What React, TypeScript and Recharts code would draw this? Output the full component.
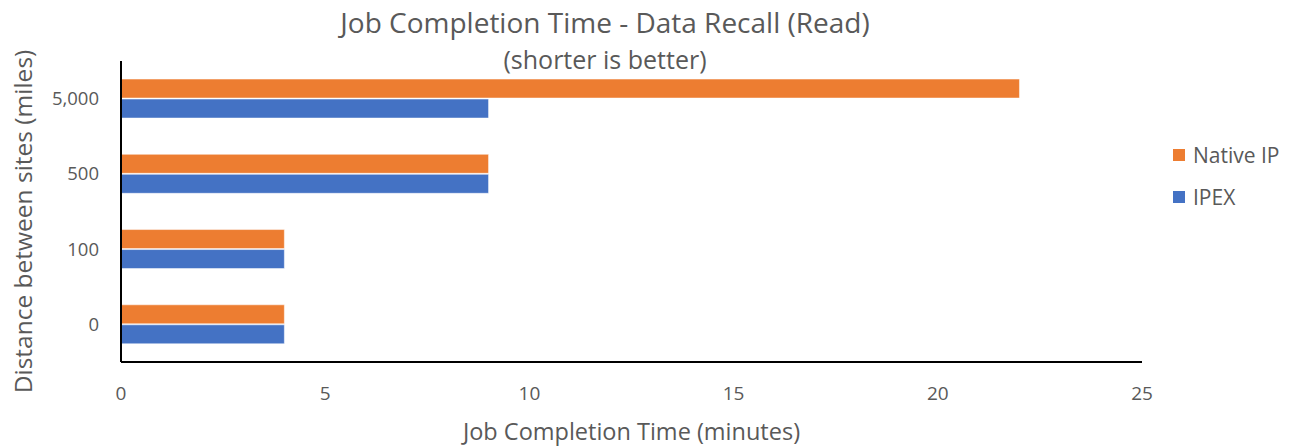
import React from "react";
import { BarChart, Bar, XAxis, YAxis, Label } from "recharts";

const distances = ["5,000", "500", "100", "0"];
const nativeIp = [22, 9, 4, 4];
const ipex = [9, 9, 4, 4];
const xTicks = [0, 5, 10, 15, 20, 25];

const seriesNames = { native: "Native IP", ipex: "IPEX" };
const colors = { native: "#ED7D31", ipex: "#4472C4" };

const data = distances.map((d, i) => ({
  distance: d,
  native: nativeIp[i],
  ipex: ipex[i],
}));

const FONT = "'Open Sans', 'DejaVu Sans', sans-serif";
const TEXT = "#595959";

function LegendBox() {
  const items = [
    { name: seriesNames.native, color: colors.native },
    { name: seriesNames.ipex, color: colors.ipex },
  ];
  return (
    <div
      style={{
        position: "absolute",
        left: 1173,
        top: 134,
        fontFamily: FONT,
        fontSize: 21,
        color: TEXT,
      }}
    >
      {items.map((it) => (
        <div
          key={it.name}
          style={{ display: "flex", alignItems: "center", height: 42 }}
        >
          <span
            style={{
              display: "inline-block",
              width: 12,
              height: 12,
              background: it.color,
              marginRight: 8,
            }}
          />
          {it.name}
        </div>
      ))}
    </div>
  );
}

export default function App() {
  return (
    <div
      style={{
        position: "absolute",
        left: 0,
        top: 0,
        width: 1293,
        height: 447,
        background: "#fff",
        fontFamily: FONT,
      }}
    >
      <div
        style={{
          position: "absolute",
          left: 0,
          width: 1210,
          top: 3,
          textAlign: "center",
          color: TEXT,
          fontSize: 28,
          lineHeight: "38px",
        }}
      >
        Job Completion Time - Data Recall (Read)
      </div>
      <div
        style={{
          position: "absolute",
          left: 0,
          width: 1210,
          top: 42,
          textAlign: "center",
          color: TEXT,
          fontSize: 25,
          lineHeight: "34px",
        }}
      >
        (shorter is better)
      </div>
      <BarChart
        width={1293}
        height={447}
        data={data}
        layout="vertical"
        margin={{ top: 61, right: 151, left: 0, bottom: 0 }}
        barCategoryGap="24%"
        barGap={1}
      >
        <XAxis
          type="number"
          domain={[0, 25]}
          ticks={xTicks}
          height={85}
          tickSize={0}
          tickMargin={25}
          tick={{ fontSize: 19, fill: TEXT, fontFamily: FONT }}
          axisLine={{ stroke: "#000", strokeWidth: 2 }}
        >
          <Label
            value="Job Completion Time (minutes)"
            position="insideBottom"
            offset={7}
            style={{ fontSize: 23.5, fill: TEXT, fontFamily: FONT }}
          />
        </XAxis>
        <YAxis
          type="category"
          dataKey="distance"
          width={121}
          tickSize={0}
          tickMargin={22}
          tick={{ fontSize: 18.5, fill: TEXT, fontFamily: FONT }}
          axisLine={{ stroke: "#000", strokeWidth: 2 }}
        >
          <Label
            content={({ viewBox }: any) => {
              const cy = viewBox.y + viewBox.height / 2 + 10;
              return (
                <text
                  x={22}
                  y={cy}
                  transform={`rotate(-90, 22, ${cy})`}
                  textAnchor="middle"
                  dominantBaseline="central"
                  style={{ fontSize: 24.5, fill: TEXT, fontFamily: FONT }}
                >
                  Distance between sites (miles)
                </text>
              );
            }}
          />
        </YAxis>
        <Bar
          dataKey="native"
          name={seriesNames.native}
          fill={colors.native}
          stroke="#ffffff"
          strokeOpacity={0.5}
          strokeWidth={1}
          isAnimationActive={false}
        />
        <Bar
          dataKey="ipex"
          name={seriesNames.ipex}
          fill={colors.ipex}
          stroke="#ffffff"
          strokeOpacity={0.5}
          strokeWidth={1}
          isAnimationActive={false}
        />
      </BarChart>
      <LegendBox />
    </div>
  );
}
